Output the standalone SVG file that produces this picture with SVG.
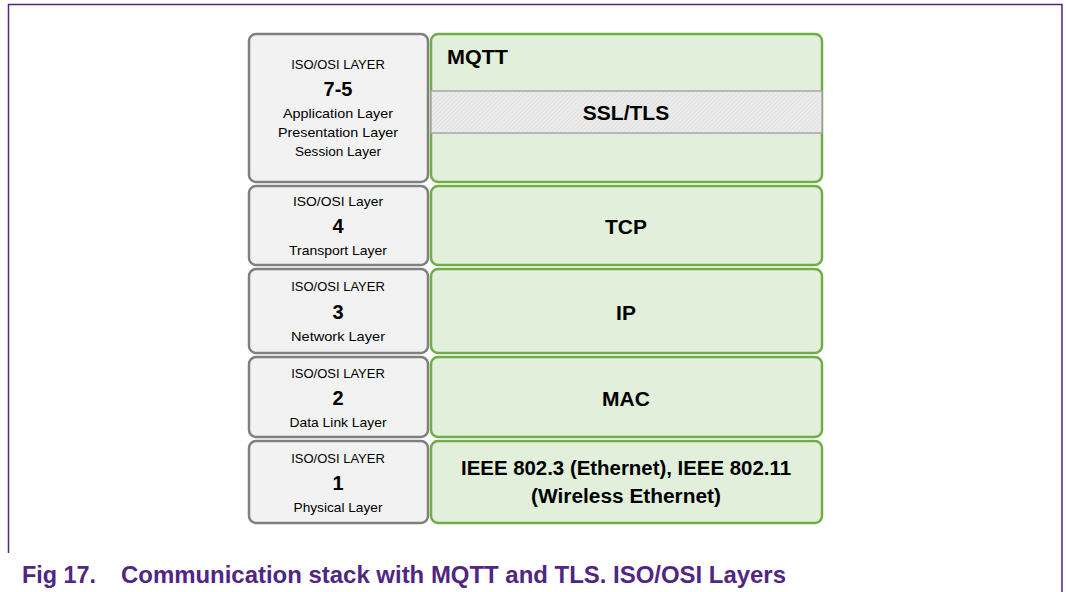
<svg xmlns="http://www.w3.org/2000/svg" width="1066" height="592" viewBox="0 0 1066 592">
<defs>
<pattern id="hatch" width="3" height="3" patternUnits="userSpaceOnUse" patternTransform="rotate(45)">
<rect width="3" height="3" fill="#ececec"/>
<line x1="0" y1="0" x2="0" y2="3" stroke="#d6d6d6" stroke-width="1"/>
</pattern>
</defs>
<style>
.osi{fill:#f2f2f2;stroke:#7f7f7f;stroke-width:2.5}
.proto{fill:#e2efda;stroke:#70ad47;stroke-width:2.5}
.s{font-family:"Liberation Sans",Arial,sans-serif;font-size:13.5px;fill:#000;text-anchor:middle}
.t{font-family:"Liberation Sans",Arial,sans-serif;font-size:13px;fill:#000;text-anchor:middle}
.n{font-family:"Liberation Sans",Arial,sans-serif;font-size:20px;font-weight:bold;fill:#000;text-anchor:middle}
.b{font-family:"Liberation Sans",Arial,sans-serif;font-size:21px;font-weight:bold;fill:#000;text-anchor:middle}
.cap{font-family:"Liberation Sans",Arial,sans-serif;font-size:24px;font-weight:bold;fill:#4f2683}
</style>
<rect width="1066" height="592" fill="#fff"/>
<path d="M8.5,553 V4.5 H1062 V592" fill="none" stroke="#4f2683" stroke-width="1.5"/>

<g id="osi75">
<rect class="osi" x="249" y="34" width="179" height="148" rx="7"/>
<text class="t" x="338" y="69">ISO/OSI LAYER</text>
<text class="n" x="338" y="96">7-5</text>
<text class="s" x="338" y="118" textLength="110" lengthAdjust="spacingAndGlyphs">Application Layer</text>
<text class="s" x="338" y="137" textLength="120" lengthAdjust="spacingAndGlyphs">Presentation Layer</text>
<text class="s" x="338" y="156" textLength="86" lengthAdjust="spacingAndGlyphs">Session Layer</text>
</g>
<g id="mqtt">
<rect class="proto" x="431" y="34" width="391" height="148" rx="7"/>
<text class="b" x="447" y="64" textLength="61" lengthAdjust="spacingAndGlyphs" style="text-anchor:start">MQTT</text>
</g>
<g id="ssltls">
<rect x="431" y="91" width="391" height="42" fill="url(#hatch)" stroke="#a6a6a6" stroke-width="1.5"/>
<text class="b" x="626" y="120">SSL/TLS</text>
</g>

<g id="osi4">
<rect class="osi" x="249" y="186" width="179" height="79" rx="7"/>
<text class="s" x="338" y="206" textLength="90" lengthAdjust="spacingAndGlyphs">ISO/OSI Layer</text>
<text class="n" x="338" y="233">4</text>
<text class="s" x="338" y="255" textLength="98" lengthAdjust="spacingAndGlyphs">Transport Layer</text>
</g>
<g id="tcp">
<rect class="proto" x="431" y="186" width="391" height="79" rx="7"/>
<text class="b" x="626" y="234">TCP</text>
</g>

<g id="osi3">
<rect class="osi" x="249" y="269" width="179" height="84" rx="7"/>
<text class="t" x="338" y="291">ISO/OSI LAYER</text>
<text class="n" x="338" y="319">3</text>
<text class="s" x="338" y="341" textLength="94" lengthAdjust="spacingAndGlyphs">Network Layer</text>
</g>
<g id="ip">
<rect class="proto" x="431" y="269" width="391" height="84" rx="7"/>
<text class="b" x="626" y="320">IP</text>
</g>

<g id="osi2">
<rect class="osi" x="249" y="357" width="179" height="80" rx="7"/>
<text class="t" x="338" y="378">ISO/OSI LAYER</text>
<text class="n" x="338" y="405">2</text>
<text class="s" x="338" y="427" textLength="97" lengthAdjust="spacingAndGlyphs">Data Link Layer</text>
</g>
<g id="mac">
<rect class="proto" x="431" y="357" width="391" height="80" rx="7"/>
<text class="b" x="626" y="406">MAC</text>
</g>

<g id="osi1">
<rect class="osi" x="249" y="441" width="179" height="82" rx="7"/>
<text class="t" x="338" y="463">ISO/OSI LAYER</text>
<text class="n" x="338" y="490">1</text>
<text class="s" x="338" y="512" textLength="89" lengthAdjust="spacingAndGlyphs">Physical Layer</text>
</g>
<g id="phy">
<rect class="proto" x="431" y="441" width="391" height="82" rx="7"/>
<text class="b" x="626" y="475" style="font-size:20px" textLength="330" lengthAdjust="spacingAndGlyphs">IEEE 802.3 (Ethernet), IEEE 802.11</text>
<text class="b" x="626" y="503" style="font-size:20px" textLength="190" lengthAdjust="spacingAndGlyphs">(Wireless Ethernet)</text>
</g>

<g id="connectors"></g>

<g id="caption">
<text class="cap" x="22" y="583" textLength="74" lengthAdjust="spacingAndGlyphs">Fig 17.</text>
<text class="cap" x="121" y="583" textLength="665" lengthAdjust="spacingAndGlyphs">Communication stack with MQTT and TLS. ISO/OSI Layers</text>
</g>
</svg>
